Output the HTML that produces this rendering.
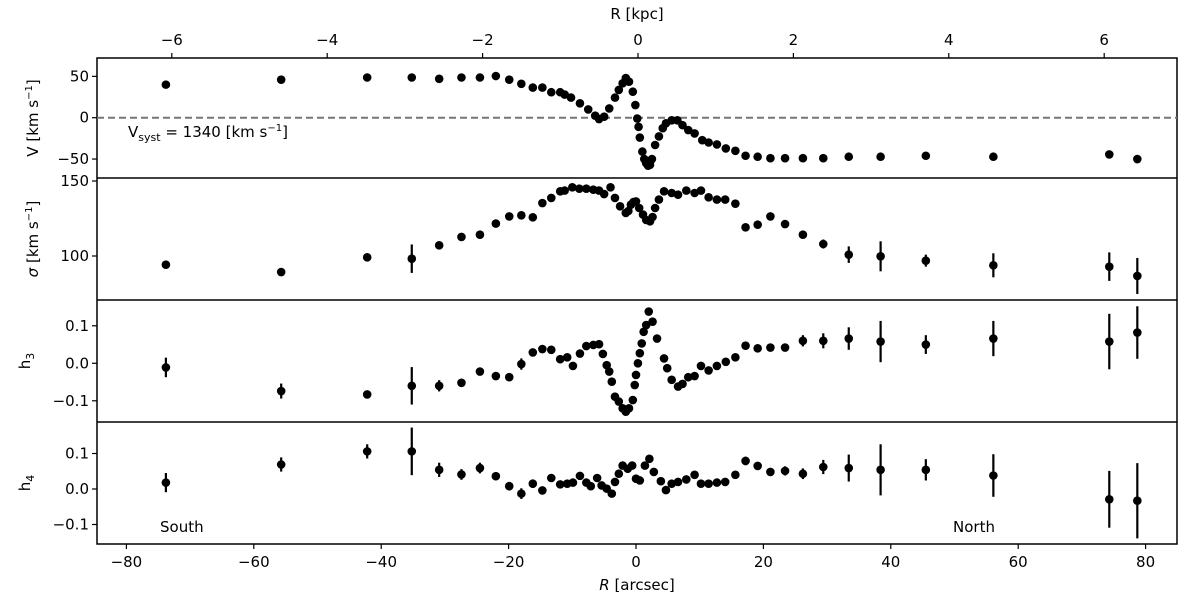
<!DOCTYPE html>
<html><head><meta charset="utf-8"><style>
html,body{margin:0;padding:0;background:#fff;}
svg{display:block;font-family:"DejaVu Sans","Liberation Sans",sans-serif;}
</style></head><body>
<svg id="chart" width="1200" height="600" viewBox="0 0 1200 600">
<g id="axes"></g>
<g id="marks"></g>
<text x="128" y="137" font-size="15">V<tspan font-size="11" dy="4">syst</tspan><tspan dy="-4"> = 1340 [km s</tspan><tspan font-size="10" dy="-6">−1</tspan><tspan dy="6">]</tspan></text>
<text x="160" y="532" font-size="15">South</text>
<text x="953" y="532" font-size="15">North</text>
<text x="637" y="19" font-size="15" text-anchor="middle">R [kpc]</text>
<text x="637" y="590" font-size="15" text-anchor="middle"><tspan font-style="italic">R</tspan> [arcsec]</text>
<text transform="translate(38,118) rotate(-90)" font-size="15" text-anchor="middle">V [km s<tspan font-size="10" dy="-6">−1</tspan><tspan dy="6">]</tspan></text>
<text transform="translate(38,239) rotate(-90)" font-size="15" text-anchor="middle"><tspan font-style="italic">σ</tspan> [km s<tspan font-size="10" dy="-6">−1</tspan><tspan dy="6">]</tspan></text>
<text transform="translate(30,361) rotate(-90)" font-size="15" text-anchor="middle">h<tspan font-size="11" dy="4">3</tspan></text>
<text transform="translate(30,483) rotate(-90)" font-size="15" text-anchor="middle">h<tspan font-size="11" dy="4">4</tspan></text>
</svg>
<script>
// ---- data ----
const vR = [-73.8,-55.7,-42.2,-35.2,-30.9,-27.4,-24.5,-22.0,-19.9,-18.0,-16.2,-14.7,-13.3,-11.9,-11.2,-10.2,-8.8,-7.5,-6.4,-5.8,-5.0,-4.2,-3.3,-2.7,-2.1,-1.6,-1.1,-0.5,-0.1,0.2,0.4,0.6,1.0,1.3,1.6,1.9,2.2,2.5,3.0,3.6,4.2,4.7,5.6,6.5,7.3,8.2,9.2,10.4,11.4,12.7,14.1,15.6,17.2,19.1,21.1,23.4,26.2,29.4,33.4,38.4,45.5,56.1,74.3,78.7];
const vVal = [40,46,48.6,48.6,47,48.6,48.6,50.4,46,41,36.4,36.4,30.8,30.8,28,24.3,17.4,10,2.4,-1.6,1.2,11.2,24.3,33.6,41.6,48,43.5,31.5,15.3,-1,-11,-24,-41,-50,-55,-58,-57,-50,-33,-22.7,-12.7,-6.8,-3.2,-3.2,-9,-14.9,-19,-27.2,-30,-32.3,-37.2,-40,-46,-47.2,-49,-49,-49,-49,-47.2,-47.2,-46,-47.2,-44.4,-50];
const vErr = [1,1,1,1,1,1,1,1,1,1,1,1,1,1,1,1,1,1,1,1,1,1,1,1,1,1,1,1,1,1,1,1,1,1,1,1,1,1,1,1,1,1,1,1,1,1,1,1,1,1,1,1,1,1,1,1,1,1,1,2,1,1,4,5];

const sR = [-73.8,-55.7,-42.2,-35.2,-30.9,-27.4,-24.5,-22.0,-19.9,-18.0,-16.2,-14.7,-13.3,-11.9,-11.2,-10.0,-8.9,-7.8,-6.7,-5.8,-5.0,-4.0,-3.3,-2.5,-1.6,-1.2,-0.8,-0.4,0.0,0.5,1.1,1.6,2.2,2.6,3.0,3.6,4.4,5.6,6.6,7.9,9.2,10.2,11.4,12.7,14.0,15.6,17.2,19.1,21.1,23.4,26.2,29.4,33.4,38.4,45.5,56.1,74.3,78.7];
const sVal = [94.2,89.3,99.1,98.2,107.1,112.7,114.2,121.6,126.4,127.1,125.8,135.3,138.7,143.1,143.6,145.8,144.9,144.9,144.2,143.6,141.3,145.8,138.7,133.1,128.7,130,134.2,136,136.4,132,127.6,124,123.1,126,132,137.6,143.1,142,140.9,143.6,142,143.6,139.1,137.6,137.6,134.9,119.1,120.9,126.4,121.3,114.2,108,100.9,99.8,96.9,93.8,92.9,86.7];
const sErr = [2.5,2,2.5,9.5,2,2,2,2,2,2,2,2,2,2,2,2,2,2,2,2,2,2,2,2,2,2,2,2,2,2,2,2,2,2,2,2,2,2,2,2,2,2,2,2,2,2,2,2,2,2,2.5,3,5.5,10,4,8,9.5,12];

const h3R = [-73.8,-55.7,-42.2,-35.2,-30.9,-27.4,-24.5,-22.0,-19.9,-18.0,-16.2,-14.7,-13.3,-11.9,-10.8,-9.9,-8.8,-7.8,-6.7,-5.8,-5.2,-4.6,-4.2,-3.8,-3.3,-2.7,-2.1,-1.6,-1.1,-0.5,-0.2,0.0,0.3,0.6,0.9,1.2,1.6,2.0,2.6,3.3,4.4,4.9,5.6,6.6,7.3,8.2,9.2,10.2,11.4,12.7,14.1,15.6,17.2,19.1,21.1,23.4,26.2,29.4,33.4,38.4,45.5,56.1,74.3,78.7];
const h3Val = [-0.011,-0.074,-0.083,-0.06,-0.06,-0.052,-0.022,-0.034,-0.037,-0.002,0.029,0.038,0.036,0.011,0.016,-0.007,0.026,0.046,0.049,0.051,0.025,-0.005,-0.022,-0.049,-0.089,-0.102,-0.12,-0.129,-0.12,-0.098,-0.058,-0.031,0,0.027,0.053,0.084,0.102,0.138,0.111,0.066,0.013,-0.013,-0.044,-0.062,-0.055,-0.037,-0.034,-0.007,-0.019,-0.007,0.004,0.016,0.047,0.04,0.042,0.042,0.06,0.06,0.066,0.058,0.05,0.066,0.058,0.082];
const h3Err = [0.026,0.02,0.01,0.05,0.015,0.01,0.008,0.008,0.008,0.015,0.01,0.01,0.01,0.008,0.008,0.008,0.008,0.008,0.008,0.008,0.005,0.005,0.005,0.005,0.005,0.005,0.005,0.005,0.005,0.005,0.005,0.005,0.005,0.005,0.005,0.005,0.005,0.005,0.005,0.005,0.005,0.005,0.005,0.005,0.005,0.005,0.005,0.005,0.005,0.005,0.008,0.008,0.008,0.008,0.008,0.01,0.015,0.02,0.03,0.055,0.025,0.047,0.074,0.07];

const h4R = [-73.8,-55.7,-42.2,-35.2,-30.9,-27.4,-24.5,-22.0,-19.9,-18.0,-16.2,-14.7,-13.3,-11.9,-10.8,-9.9,-8.8,-7.8,-7.1,-6.1,-5.4,-4.6,-3.8,-3.3,-2.7,-2.1,-1.3,-0.6,0.0,0.6,1.4,2.1,2.8,3.9,4.7,5.6,6.6,7.9,9.2,10.2,11.4,12.7,14.0,15.6,17.2,19.1,21.1,23.4,26.2,29.4,33.4,38.4,45.5,56.1,74.3,78.7];
const h4Val = [0.018,0.069,0.106,0.106,0.054,0.041,0.059,0.036,0.008,-0.013,0.015,-0.004,0.031,0.013,0.015,0.018,0.037,0.018,0.008,0.031,0.01,0.001,-0.013,0.02,0.043,0.066,0.057,0.066,0.029,0.024,0.066,0.085,0.048,0.022,-0.003,0.015,0.02,0.027,0.04,0.015,0.015,0.018,0.02,0.04,0.079,0.065,0.048,0.051,0.043,0.062,0.059,0.054,0.054,0.038,-0.029,-0.033];
const h4Err = [0.027,0.02,0.02,0.067,0.02,0.015,0.015,0.008,0.012,0.015,0.012,0.008,0.008,0.008,0.008,0.008,0.008,0.008,0.008,0.008,0.008,0.008,0.008,0.008,0.008,0.008,0.008,0.008,0.008,0.008,0.008,0.008,0.008,0.008,0.008,0.008,0.008,0.008,0.008,0.008,0.008,0.008,0.008,0.008,0.012,0.01,0.01,0.013,0.015,0.02,0.038,0.072,0.03,0.06,0.08,0.106];

const xTicks = [-80,-60,-40,-20,0,20,40,60,80];
const kpcTicks = [-6,-4,-2,0,2,4,6];
const vTicks = [50,0,-50];
const sTicks = [150,100];
const h3Ticks = [0.1,0.0,-0.1];
const h4Ticks = [0.1,0.0,-0.1];

// ---- scales ----
const X0 = 97, X1 = 1177;
function xs(r){ return 636 + r*6.37; }
function xk(k){ return 638 + k*77.7; }
function yV(v){ return 117.7 - v*0.827; }
function yS(s){ return 181 + (150 - s)*1.5; }
function yH3(h){ return 363.3 - h*375; }
function yH4(h){ return 489 - h*355; }

const NS = "http://www.w3.org/2000/svg";
const axes = document.getElementById('axes');
const marks = document.getElementById('marks');
function mk(tag, attrs, parent){
  const e = document.createElementNS(NS, tag);
  for (const k in attrs) e.setAttribute(k, attrs[k]);
  parent.appendChild(e);
  return e;
}

// frame and panel dividers
const frame = mk('rect', {x:X0, y:58, width:X1-X0, height:486, fill:'none', stroke:'#000', 'stroke-width':1.5}, axes);


[178,300,422].forEach(function(y){
  const l = mk('line', {x1:X0, x2:X1, y1:y, y2:y, stroke:'#000', 'stroke-width':1.5}, axes);
  
  
});
// zero line
const zl = mk('line', {x1:X0, x2:X1, y1:yV(0), y2:yV(0), stroke:'#777', 'stroke-width':2, 'stroke-dasharray':'7,4'}, axes);



// bottom ticks
xTicks.forEach(function(t){
  const x = xs(t);
  mk('line', {x1:x, x2:x, y1:544, y2:549, stroke:'#000', 'stroke-width':1.2}, axes);
  const tx = mk('text', {x:x, y:567, 'font-size':15, 'text-anchor':'middle'}, axes);
  tx.textContent = t < 0 ? '−' + Math.abs(t) : String(t);
  
  
});
// top ticks
kpcTicks.forEach(function(t){
  const x = xk(t);
  mk('line', {x1:x, x2:x, y1:58, y2:53, stroke:'#000', 'stroke-width':1.2}, axes);
  const tx = mk('text', {x:x, y:45, 'font-size':15, 'text-anchor':'middle'}, axes);
  tx.textContent = t < 0 ? '−' + Math.abs(t) : String(t);
  
  
});
// y ticks
function yTicks(ticks, fn, fmt, name){
  ticks.forEach(function(t){
    const y = fn(t);
    mk('line', {x1:X0, x2:X0-5, y1:y, y2:y, stroke:'#000', 'stroke-width':1.2}, axes);
    const tx = mk('text', {x:X0-8, y:y+5, 'font-size':15, 'text-anchor':'end'}, axes);
    const s = fmt(t);
    tx.textContent = s.replace('-', '−');
    
    
  });
}
yTicks(vTicks, yV, function(t){return String(t);}, 'v-tick-label');
yTicks(sTicks, yS, function(t){return String(t);}, 'sigma-tick-label');
yTicks(h3Ticks, yH3, function(t){return t.toFixed(1);}, 'h3-tick-label');
yTicks(h4Ticks, yH4, function(t){return t.toFixed(1);}, 'h4-tick-label');

// series
function series(rs, vals, errs, yf, name){
  const g = mk('g', {}, marks);
  
  
  for (let i = 0; i < rs.length; i++){
    const x = xs(rs[i]);
    const e = errs[i] || 0;
    if (e > 0){
      const bar = mk('line', {x1:x, x2:x, y1:yf(vals[i]-e), y2:yf(vals[i]+e), stroke:'#000', 'stroke-width':2.2}, g);
      
      
    }
    const c = mk('circle', {cx:x, cy:yf(vals[i]), r:4.3, fill:'#000'}, g);
    
    
  }
}
series(vR, vVal, vErr, yV, 'velocity');
series(sR, sVal, sErr, yS, 'sigma');
series(h3R, h3Val, h3Err, yH3, 'h3');
series(h4R, h4Val, h4Err, yH4, 'h4');
</script>
</body></html>
